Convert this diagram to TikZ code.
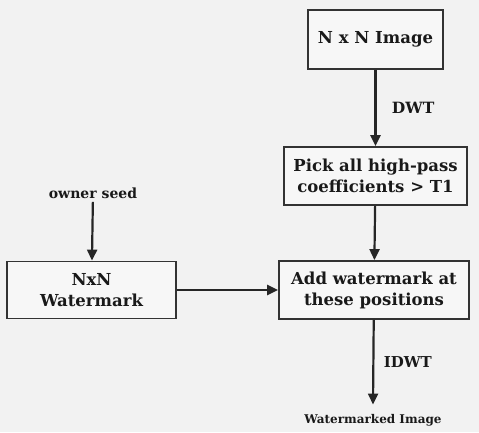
\documentclass[tikz,border=0pt]{standalone}
\usepackage{fontspec}
\setmainfont{DejaVu Serif}
\usetikzlibrary{arrows.meta,positioning}

\begin{document}
\begin{tikzpicture}[
    x=1pt,y=1pt,
    >={Triangle[length=11pt,width=10pt]},
    line/.style={draw=black!85, line width=2.2pt},
    box/.style={
        draw=black!80,
        line width=1.8pt,
        fill=black!3,
        align=center,
        inner sep=2pt,
        font=\bfseries\fontsize{16.5}{21}\selectfont,
        text=black!90
    },
    label/.style={font=\bfseries\fontsize{14}{16}\selectfont, text=black!90}
]

% ===== page =====
\fill[black!5] (0,0) rectangle (479,432);
\useasboundingbox (0,0) rectangle (479,432);

% ===== boxes =====
\node[box, minimum width=135pt, minimum height=59pt] (img) at (375.5,392.5) {N x N Image};
\node[box, minimum width=183pt, minimum height=58pt] (pick) at (375.5,256)
  {Pick all high-pass\\ coefficients > T1};
\node[box, minimum width=190pt, minimum height=58pt] (add) at (374,142)
  {Add watermark at\\ these positions};
\node[box, minimum width=169pt, minimum height=57pt] (wm) at (91.5,142)
  {NxN\\ Watermark};

% ===== free labels =====
\node[label] (seed) at (93,239) {owner seed};
\node[label, font=\bfseries\fontsize{12}{15}\selectfont] (out) at (373,12) {Watermarked Image};

% ===== connectors =====
\draw[line,->] (img) -- (pick)
  node[label, midway, right=12pt, font=\bfseries\fontsize{15.5}{18}\selectfont] (dwt) {DWT};
\draw[line,->] (pick) -- (add);
\draw[line,->] (seed) -- (wm);
\draw[line,->] (wm) -- (add);
\draw[line,->] (add) -- ([yshift=6pt]out.north)
  node[label, midway, right=6pt, font=\bfseries\fontsize{15}{18}\selectfont] (idwt) {IDWT};
\end{tikzpicture}
\end{document}
